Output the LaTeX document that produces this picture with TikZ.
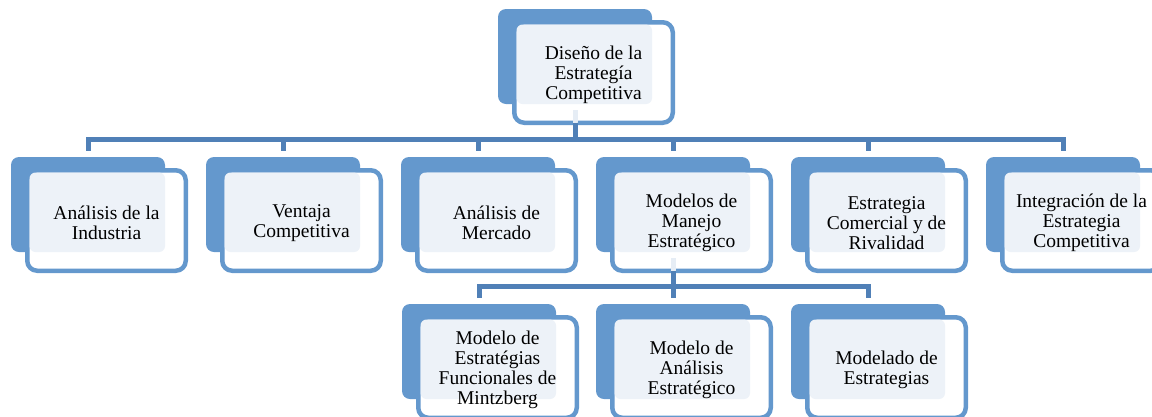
\documentclass[tikz,border=0pt]{standalone}
\usepackage{fontspec}
\setmainfont{Liberation Serif}
\definecolor{boxblue}{RGB}{100,152,205}
\definecolor{connblue}{RGB}{80,128,183}
\definecolor{textfill}{RGB}{237,242,248}
\definecolor{connlight}{RGB}{230,237,245}
\tikzset{
  backbox/.style={rectangle, minimum width=154pt, minimum height=95pt, inner sep=0pt, outer sep=0pt, fill=boxblue, rounded corners=8pt},
  frontbox/.style={rectangle, minimum width=158.5pt, minimum height=100.5pt, inner sep=0pt, outer sep=0pt, draw=boxblue, line width=4.5pt, fill=white, rounded corners=10pt},
  tbox/.style={fill=textfill, rounded corners=6pt},
  lbl/.style={align=center, inner sep=0pt, font=\fontsize{19.5}{20}\selectfont, text=black},
  conn/.style={draw=connblue, line width=5pt, line join=miter},
  connl/.style={draw=connlight, line width=5pt}
}
\newcommand\mknode[4]{%
  \node[backbox, anchor=north west] (b#1) at (#2,#3) {};
  \node[frontbox, anchor=north west] (f#1) at (#2+16.25,#3+13.25) {};
  \path[tbox] ([xshift=2.25pt,yshift=-2.25pt]f#1.north west) rectangle (b#1.south east);
  \node[lbl] (t#1) at ([yshift=-2.5pt]f#1.center) {#4};
}
\begin{document}
\begin{tikzpicture}[x=1pt,y=-1pt]
\useasboundingbox (0,0) rectangle (1152,416);
\clip (0,0) rectangle (1152,416);
\coordinate (barA) at (0,139);
\coordinate (barB) at (0,286);
% nodes
\mknode{0}{498}{9}{Diseño de la\\Estrategía\\Competitiva}
\mknode{1}{11}{157}{Análisis de la\\Industria}
\mknode{2}{206}{157}{Ventaja\\Competitiva}
\mknode{3}{401}{157}{Análisis de\\Mercado}
\mknode{4}{596}{157}{Modelos de\\Manejo\\Estratégico}
\mknode{5}{791}{157}{Estrategia\\Comercial y de\\Rivalidad}
\mknode{6}{986}{157}{Integración de la\\Estrategia\\Competitiva}
\mknode{7}{402}{304}{Modelo de\\Estratégias\\Funcionales de\\Mintzberg}
\mknode{8}{596}{304}{Modelo de\\Análisis\\Estratégico}
\mknode{9}{791}{304}{Modelado de\\Estrategias}
% connectors level 1
\path[connl] ([yshift=-6pt]b0.south) -- (b0.south |- f0.south);
\foreach \i in {1,...,6}{
  \path[conn] (b0.south |- f0.south) -- (b0.south |- barA) -| ([yshift=6pt]b\i.north);
}
% connectors level 2
\path[connl] ([yshift=-6pt]b4.south) -- (b4.south |- f4.south);
\foreach \i in {7,8,9}{
  \path[conn] (b4.south |- f4.south) -- (b4.south |- barB) -| ([yshift=6pt]b\i.north);
}
\end{tikzpicture}
\end{document}
